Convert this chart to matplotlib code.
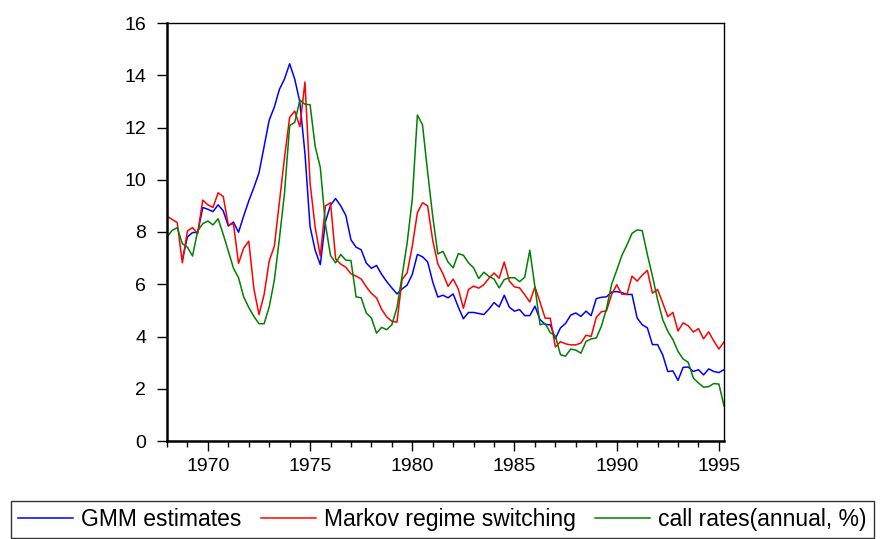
import numpy as np
import pandas as pd
import matplotlib
matplotlib.use("Agg")
import matplotlib.pyplot as plt
from matplotlib.ticker import MultipleLocator

plt.rcParams['font.family'] = ['Liberation Sans', 'DejaVu Sans']

# quarterly observations 1968Q1 .. 1995Q2
quarters = pd.period_range('1968Q1', periods=110, freq='Q')

markov = [8.61, 8.48, 8.36, 6.82, 8.04, 8.17, 7.94, 9.22, 9.04, 8.94,
          9.50, 9.36, 8.27, 8.32, 6.80, 7.38, 7.65, 5.83, 4.84, 5.60,
          6.89, 7.45, 9.15, 10.85, 12.39, 12.63, 12.03, 13.74, 9.87, 8.17,
          7.08, 9.00, 9.12, 6.97, 6.77, 6.65, 6.40, 6.31, 6.20, 5.90,
          5.65, 5.48, 5.04, 4.75, 4.58, 4.55, 6.18, 6.44, 7.46, 8.74,
          9.12, 9.00, 7.68, 6.78, 6.40, 5.92, 6.20, 5.82, 5.08, 5.80,
          5.93, 5.85, 5.98, 6.23, 6.43, 6.23, 6.85, 6.12, 5.90, 5.86,
          5.60, 5.32, 5.90, 5.32, 4.70, 4.70, 3.60, 3.80, 3.72, 3.68,
          3.68, 3.75, 4.05, 4.00, 4.73, 4.95, 4.98, 5.60, 5.98, 5.62,
          5.61, 6.31, 6.12, 6.35, 6.53, 5.66, 5.80, 5.29, 4.76, 4.92,
          4.21, 4.52, 4.41, 4.17, 4.30, 3.91, 4.18, 3.83, 3.52, 3.79]

gmm = [np.nan, np.nan, np.nan, 6.95, 7.81, 7.98, 7.98, 8.94, 8.87, 8.78,
       9.04, 8.81, 8.23, 8.38, 7.99, 8.61, 9.19, 9.70, 10.26, 11.27,
       12.28, 12.78, 13.46, 13.86, 14.44, 13.85, 12.97, 11.00, 8.20, 7.30,
       6.75, 8.39, 9.03, 9.28, 9.00, 8.63, 7.70, 7.42, 7.32, 6.81,
       6.61, 6.72, 6.38, 6.10, 5.86, 5.63, 5.82, 5.97, 6.38, 7.14,
       7.05, 6.86, 6.09, 5.51, 5.58, 5.48, 5.63, 5.13, 4.68, 4.92,
       4.92, 4.88, 4.84, 5.05, 5.30, 5.13, 5.58, 5.12, 4.97, 5.03,
       4.80, 4.80, 5.16, 4.65, 4.46, 4.45, 3.92, 4.33, 4.50, 4.82,
       4.90, 4.77, 4.97, 4.80, 5.45, 5.50, 5.52, 5.70, 5.72, 5.68,
       5.61, 5.61, 4.71, 4.45, 4.33, 3.69, 3.69, 3.30, 2.66, 2.68,
       2.32, 2.82, 2.83, 2.66, 2.73, 2.53, 2.76, 2.66, 2.62, 2.73]

call_rate = [7.81, 8.06, 8.17, 7.55, 7.42, 7.08, 8.04, 8.32, 8.42, 8.27,
             8.51, 7.91, 7.27, 6.62, 6.25, 5.52, 5.11, 4.77, 4.49, 4.49,
             5.13, 6.15, 7.75, 9.50, 12.07, 12.20, 13.05, 12.89, 12.87, 11.27,
             10.47, 8.30, 7.10, 6.82, 7.14, 6.92, 6.91, 5.52, 5.48, 4.90,
             4.71, 4.13, 4.35, 4.26, 4.45, 5.10, 6.31, 7.59, 9.26, 12.48,
             12.10, 10.30, 8.60, 7.16, 7.26, 6.85, 6.63, 7.17, 7.11, 6.82,
             6.63, 6.22, 6.46, 6.30, 6.20, 5.86, 6.18, 6.25, 6.25, 6.10,
             6.27, 7.30, 5.90, 4.45, 4.50, 4.15, 4.02, 3.30, 3.25, 3.52,
             3.48, 3.36, 3.81, 3.91, 3.94, 4.39, 5.06, 5.99, 6.53, 7.10,
             7.50, 7.95, 8.08, 8.05, 7.14, 6.31, 5.41, 4.65, 4.20, 3.88,
             3.43, 3.14, 3.01, 2.41, 2.22, 2.06, 2.08, 2.20, 2.18, 1.34]

labels = ["GMM estimates", "Markov regime switching", "call rates(annual, %)"]

t = quarters.year + (quarters.quarter - 1) / 4.0

fig = plt.figure(figsize=(8.8, 5.39), dpi=100)
ax = fig.add_axes([167 / 880, 1 - 441 / 539, (724 - 167) / 880, (441 - 23) / 539])

ax.plot(t, gmm, color="#0000FF", lw=1.1, label=labels[0])
ax.plot(t, markov, color="#FF0000", lw=1.1, label=labels[1])
ax.plot(t, call_rate, color="#008000", lw=1.1, label=labels[2])

ax.set_xlim(1968, 1995.25)
ax.set_ylim(0, 16)
ax.yaxis.set_major_locator(MultipleLocator(2))
ax.xaxis.set_major_locator(MultipleLocator(5))
ax.xaxis.set_minor_locator(MultipleLocator(1))
ax.tick_params(axis="both", which="major", direction="out", length=7, width=1,
               labelsize=14, color="black")
ax.tick_params(axis="x", which="minor", direction="out", length=4, width=1)
ax.tick_params(axis="y", pad=8)
ax.tick_params(axis="x", pad=5)

for side in ["left", "bottom"]:
    ax.spines[side].set_linewidth(1.8)
for side in ["top", "right"]:
    ax.spines[side].set_linewidth(1.0)

handles, lbls = ax.get_legend_handles_labels()
leg = fig.legend(handles, lbls, ncol=3, loc="lower left",
                 bbox_to_anchor=(11 / 880, 1 / 539),
                 fontsize=16.5, frameon=True, fancybox=False,
                 handlelength=2.4, handletextpad=0.35, borderaxespad=0,
                 borderpad=0.3, columnspacing=0.85)
leg.get_frame().set_edgecolor("black")
leg.get_frame().set_linewidth(1.0)

fig.savefig("out.png", dpi=100)
plt.close("all")
